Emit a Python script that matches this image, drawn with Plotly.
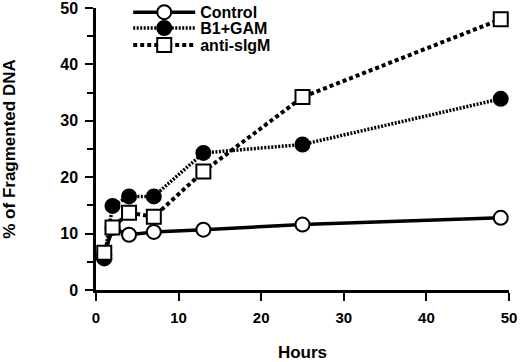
import plotly.graph_objects as go

hours = [1, 2, 4, 7, 13, 25, 49]
control = [6.2, 11.0, 9.8, 10.3, 10.7, 11.6, 12.8]
b1_gam = [5.6, 14.9, 16.6, 16.6, 24.3, 25.8, 33.9]
anti_sigm = [6.6, 11.1, 13.7, 13.0, 21.0, 34.2, 48.0]

fig = go.Figure()
fig.add_trace(go.Scatter(
    x=hours, y=control, name="Control", mode="lines+markers", legend="legend",
    line=dict(color="black", width=3.5, dash="solid"),
    marker=dict(symbol="circle", size=14, color="white", line=dict(color="black", width=2)),
    cliponaxis=False))
fig.add_trace(go.Scatter(
    x=hours, y=b1_gam, name="B1+GAM", mode="lines+markers", legend="legend2",
    line=dict(color="black", width=3.5, dash="2px,1.5px"),
    marker=dict(symbol="circle", size=14, color="black", line=dict(color="black", width=2)),
    cliponaxis=False))
fig.add_trace(go.Scatter(
    x=hours, y=anti_sigm, name="anti-sIgM", mode="lines+markers", legend="legend3",
    line=dict(color="black", width=4, dash="4px,3px"),
    marker=dict(symbol="square", size=14, color="white", line=dict(color="black", width=2)),
    cliponaxis=False))

font = dict(family="Liberation Sans, Arial, sans-serif", color="black", size=14, weight="bold")
legfont = dict(size=16, family="Liberation Sans, Arial, sans-serif", weight="bold", color="black")

def leg(y):
    return dict(x=0.078, y=y, xanchor="left", yanchor="top", visible=True,
                bgcolor="rgba(0,0,0,0)", itemwidth=62, font=legfont)

fig.update_layout(
    width=520, height=362,
    margin=dict(l=96, r=11, t=8, b=72, autoexpand=False),
    paper_bgcolor="white", plot_bgcolor="white",
    font=font, showlegend=True,
    legend=leg(1.045), legend2=leg(0.989), legend3=leg(0.929),
    xaxis=dict(range=[0, 50], tickvals=[0, 10, 20, 30, 40, 50], showgrid=False, zeroline=False,
               showline=True, linecolor="black", linewidth=2.5, automargin=False,
               ticks="outside", ticklen=8, tickwidth=2, tickcolor="black",
               ticklabelstandoff=4, ticklabeloverflow="allow",
               tickfont=dict(size=15, weight="bold"),
               title=dict(text="Hours", font=dict(size=17, weight="bold"), standoff=26)),
    yaxis=dict(range=[0, 50], tickvals=[0, 10, 20, 30, 40, 50], showgrid=False, zeroline=False,
               showline=True, linecolor="black", linewidth=2.5, automargin=False,
               ticks="outside", ticklen=8, tickwidth=2, tickcolor="black",
               ticklabelstandoff=4, ticklabeloverflow="allow",
               minor=dict(tickvals=[5, 15, 25, 35, 45], ticks="outside", ticklen=6, tickwidth=2, tickcolor="black"),
               tickfont=dict(size=16, weight="bold"),
               title=dict(text="% of Fragmented DNA", font=dict(size=17, weight="bold"), standoff=44)),
)

fig.write_html("out.html", config={"displayModeBar": False},
               post_script="document.body.style.margin='0';document.body.style.overflow='hidden';")
